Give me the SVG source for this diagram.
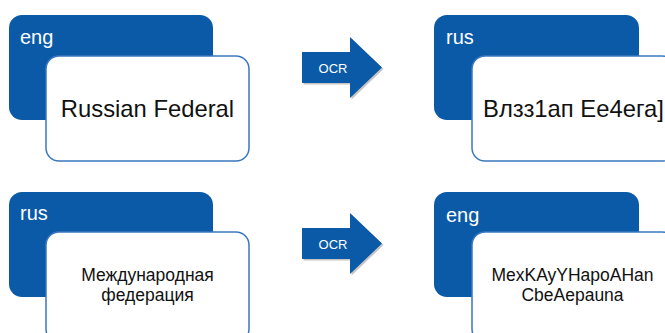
<svg xmlns="http://www.w3.org/2000/svg" width="665" height="333" viewBox="0 0 665 333">
  <style>
    .back { fill: #0b5aa7; }
    .card { fill: #ffffff; stroke: #3b78bf; stroke-width: 1.5; }
    .lang { font-family: "Liberation Sans", Arial, sans-serif; font-size: 20px; fill: #ffffff; }
    .body { font-family: "Liberation Sans", Arial, sans-serif; fill: #111111; text-anchor: middle; }
    .big { font-size: 23.8px; }
    .small { font-size: 17.5px; }
    .arrow { fill: #0b5aa7; }
    .shadow { fill: #555555; opacity: 0.35; }
    .ocr { font-family: "Liberation Sans", Arial, sans-serif; font-size: 13px; fill: #ffffff; text-anchor: middle; }
  </style>
  <defs>
    <polygon id="arrowShape" points="302,52 350,52 350,37 382,67.5 350,98 350,83 302,83"/>
  </defs>
  <rect width="665" height="333" fill="#ffffff"/>

  <g id="src-eng">
    <rect class="back" x="9" y="15" width="204" height="105" rx="13"/>
    <text class="lang" x="20" y="44">eng</text>
    <rect class="card" x="46" y="56" width="203" height="105" rx="13"/>
    <text class="body big" x="147.5" y="117">Russian Federal</text>
  </g>

  <g id="out-rus">
    <rect class="back" x="434" y="15" width="205" height="105" rx="13"/>
    <text class="lang" x="446" y="44">rus</text>
    <rect class="card" x="472" y="56" width="203" height="105" rx="13"/>
    <text class="body big" x="573.5" y="117">Влзз1ап Ее4ега]</text>
  </g>

  <g id="src-rus">
    <rect class="back" x="9" y="192" width="204" height="105" rx="13"/>
    <text class="lang" x="20" y="220">rus</text>
    <rect class="card" x="46" y="232" width="203" height="110" rx="13"/>
    <text class="body small" x="147.5" y="281">Международная</text>
    <text class="body small" x="147.5" y="301">федерация</text>
  </g>

  <g id="out-eng">
    <rect class="back" x="434" y="192" width="205" height="105" rx="13"/>
    <text class="lang" x="446" y="222">eng</text>
    <rect class="card" x="472" y="232" width="203" height="110" rx="13"/>
    <text class="body small" x="572.5" y="281">MexKAyYHapoAHan</text>
    <text class="body small" x="572.5" y="301">CbeAepauna</text>
  </g>

  <g id="connectors">
    <g id="ocr-top">
      <use href="#arrowShape" class="shadow" transform="translate(1.5,1.5)"/>
      <use href="#arrowShape" class="arrow"/>
      <text class="ocr" x="333" y="72.5">OCR</text>
    </g>
    <g id="ocr-bottom" transform="translate(0,176)">
      <use href="#arrowShape" class="shadow" transform="translate(1.5,1.5)"/>
      <use href="#arrowShape" class="arrow"/>
      <text class="ocr" x="333" y="72.5">OCR</text>
    </g>
  </g>
</svg>
